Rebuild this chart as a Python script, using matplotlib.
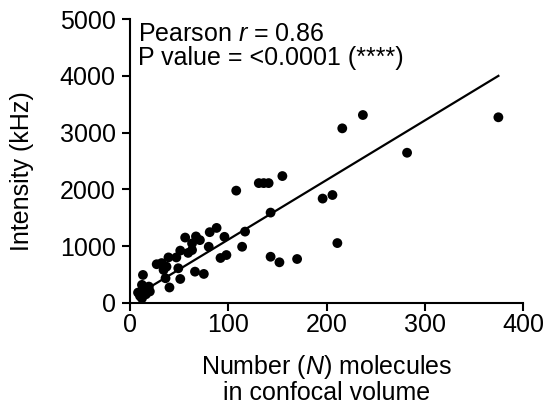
import matplotlib

matplotlib.use("Agg")
import matplotlib.pyplot as plt  # noqa: E402

# number of molecules N in confocal volume vs. intensity (kHz)
n_molecules = [
    216, 237, 375, 282, 108, 131, 136, 141, 155, 196, 206, 143, 117, 114,
    211, 143, 152, 170, 98, 92, 88, 81, 96, 66, 75, 80, 63, 56, 67, 71,
    47, 63, 51, 59, 39, 27, 32, 37, 49, 34, 13, 36, 51, 40, 12, 19,
    8, 10, 14, 16, 18, 12, 20,
]
intensity = [
    3075, 3310, 3270, 2645, 1977, 2110, 2110, 2110, 2234, 1837, 1900, 1590, 1255, 988,
    1053, 812, 714, 772, 842, 790, 1320, 1245, 1163, 549, 509, 988, 930, 1150, 1170, 1105,
    800, 1047, 920, 880, 800, 680, 700, 637, 609, 579, 491, 433, 420, 270, 316, 286,
    180, 120, 230, 150, 250, 80, 200,
]
fit_x = [8, 375]
fit_y = [150, 4000]

plt.rcParams.update({
    "font.family": "Liberation Sans",
    "font.size": 18,
    "mathtext.fontset": "custom",
    "mathtext.rm": "Liberation Sans",
    "mathtext.it": "Liberation Sans:italic",
})

fig = plt.figure(figsize=(5.47, 4.07), dpi=100)
ax = fig.add_axes([0.238, 0.256, 0.718, 0.697])

ax.plot(fit_x, fit_y, color="black", lw=1.6, zorder=2)
ax.scatter(n_molecules, intensity, s=50, color="black", edgecolors="none", zorder=3, clip_on=False)

ax.set_xlim(0, 400)
ax.set_ylim(0, 5000)
ax.set_xticks([0, 100, 200, 300, 400])
ax.set_yticks([0, 1000, 2000, 3000, 4000, 5000])
for side in ("top", "right"):
    ax.spines[side].set_visible(False)
for side in ("left", "bottom"):
    ax.spines[side].set_linewidth(1.5)
ax.tick_params(axis="x", width=1.5, length=5.5, pad=2, labelsize=18)
ax.tick_params(axis="y", width=1.5, length=5.5, pad=5, labelsize=18)

ax.set_xlabel("Number ($\\mathit{N}$) molecules\nin confocal volume", fontsize=18, labelpad=11, linespacing=1.0)
ax.set_ylabel("Intensity (kHz)", fontsize=18)
ax.yaxis.set_label_coords(-0.244, 0.465)

ax.text(0.02, 0.99, "Pearson $\\mathit{r}$ = 0.86\nP value = <0.0001 (****)",
        transform=ax.transAxes, ha="left", va="top", fontsize=18, linespacing=1.0)

fig.savefig("out.png", dpi=100)
